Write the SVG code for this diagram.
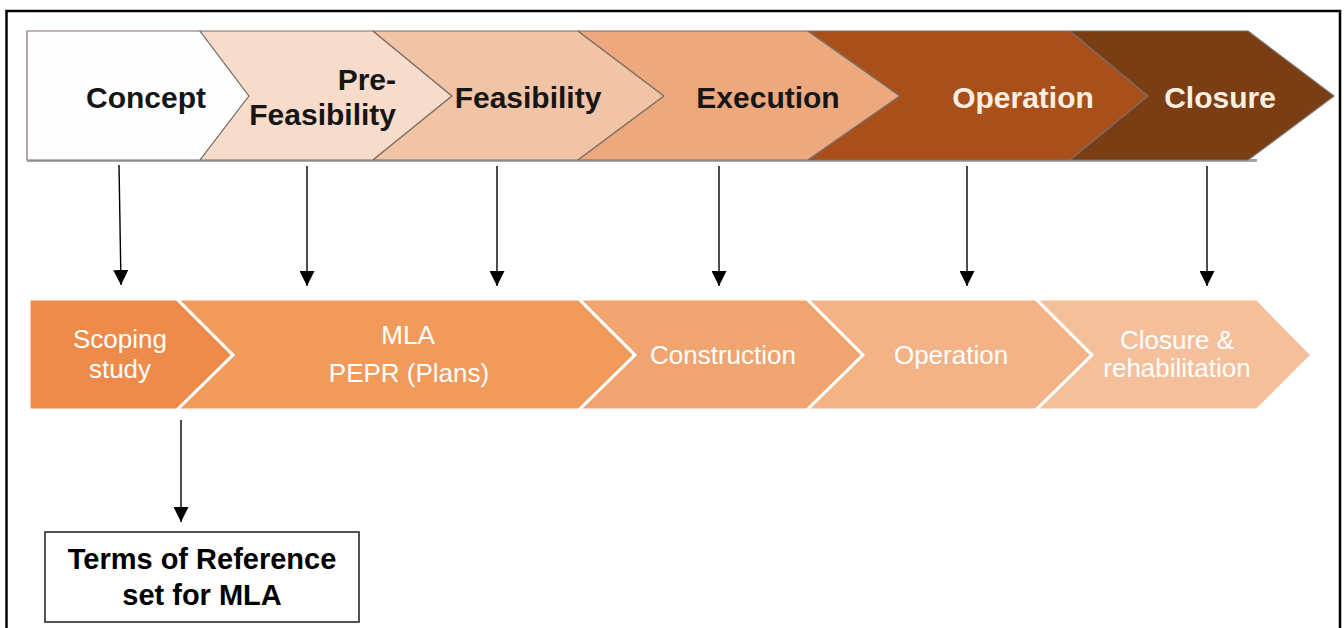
<svg xmlns="http://www.w3.org/2000/svg" width="1344" height="628" viewBox="0 0 1344 628">
  <style>
    .top { stroke: #7d6e66; stroke-width: 1.2; stroke-linejoin: round; }
    .bot { stroke: #ffffff; stroke-width: 3; stroke-linejoin: miter; }
    .tl { font-family: "Liberation Sans", Arial, sans-serif; font-weight: bold; font-size: 30px; text-anchor: middle; }
    .dark { fill: #161616; }
    .light { fill: #fcefe2; }
    .bl { font-family: "Liberation Sans", Arial, sans-serif; font-size: 26px; fill: #ffffff; text-anchor: middle; }
    .conn { stroke: #000000; stroke-width: 1.4; fill: none; marker-end: url(#arrow); }
    .box { fill: #ffffff; stroke: #1a1a1a; stroke-width: 1.5; }
    .bt { font-family: "Liberation Sans", Arial, sans-serif; font-weight: bold; font-size: 29px; fill: #000000; text-anchor: middle; }
  </style>
  <defs>
    <marker id="arrow" viewBox="0 0 15 15" refX="15" refY="7.5" markerWidth="15" markerHeight="15" markerUnits="userSpaceOnUse" orient="auto">
      <path d="M0,0 L15,7.5 L0,15 Z" fill="#000000"/>
    </marker>
  </defs>
  <rect x="0" y="0" width="1344" height="628" fill="#ffffff"/>
  <rect x="6.5" y="11" width="1333.5" height="640" fill="none" stroke="#000000" stroke-width="2.5"/>

  <!-- top band shadow -->
  <rect x="27" y="159" width="1230" height="3" fill="#a8a8a8"/>

  <g id="concept">
    <polygon class="top" points="27,31 200,31 249,96 200,160 27,160" fill="#fefefe"/>
    <text class="tl dark" x="146" y="108">Concept</text>
  </g>
  <g id="pre-feasibility">
    <polygon class="top" points="200,31 373,31 452,96 373,160 200,160 249,96" fill="#f7dccb"/>
    <text class="tl dark" x="396" y="90" style="text-anchor:end">Pre-</text>
    <text class="tl dark" x="396" y="125" style="text-anchor:end">Feasibility</text>
  </g>
  <g id="feasibility">
    <polygon class="top" points="373,31 578,31 664,96 578,160 373,160 452,96" fill="#f1c4a6"/>
    <text class="tl dark" x="528" y="108">Feasibility</text>
  </g>
  <g id="execution">
    <polygon class="top" points="578,31 808,31 900,96 808,160 578,160 664,96" fill="#eda87d"/>
    <text class="tl dark" x="768" y="108">Execution</text>
  </g>
  <g id="operation">
    <polygon class="top" points="808,31 1070,31 1148,96 1070,160 808,160 900,96" fill="#a9501a"/>
    <text class="tl light" x="1023" y="108">Operation</text>
  </g>
  <g id="closure">
    <polygon class="top" points="1070,31 1248,31 1334,96 1248,160 1070,160 1148,96" fill="#7b3d14"/>
    <text class="tl light" x="1220" y="108">Closure</text>
  </g>

  <g id="scoping-study">
    <polygon class="bot" points="29,299 177,299 233,355 177,410 29,410" fill="#ee8b4a"/>
    <text class="bl" x="120" y="348">Scoping</text>
    <text class="bl" x="120" y="378">study</text>
  </g>
  <g id="mla-pepr">
    <polygon class="bot" points="177,299 579,299 635,355 579,410 177,410 233,355" fill="#f09a5c"/>
    <text class="bl" x="408" y="344">MLA</text>
    <text class="bl" x="409" y="382">PEPR (Plans)</text>
  </g>
  <g id="construction">
    <polygon class="bot" points="579,299 807,299 863,355 807,410 579,410 635,355" fill="#f0a570"/>
    <text class="bl" x="723" y="364">Construction</text>
  </g>
  <g id="operation-phase">
    <polygon class="bot" points="807,299 1036,299 1092,355 1036,410 807,410 863,355" fill="#f3b387"/>
    <text class="bl" x="951" y="364">Operation</text>
  </g>
  <g id="closure-rehab">
    <polygon class="bot" points="1036,299 1257,299 1312,355 1257,410 1036,410 1092,355" fill="#f5bf9b"/>
    <text class="bl" x="1177" y="349">Closure &amp;</text>
    <text class="bl" x="1177" y="377">rehabilitation</text>
  </g>

  <g id="terms-of-reference">
    <rect class="box" x="45" y="532" width="314" height="90"/>
    <text class="bt" x="202" y="569">Terms of Reference</text>
    <text class="bt" x="202" y="605">set for MLA</text>
  </g>

  <g id="connectors">
    <line class="conn" x1="119" y1="165" x2="121" y2="285"/>
    <line class="conn" x1="307" y1="166" x2="307" y2="286"/>
    <line class="conn" x1="497" y1="166" x2="497" y2="286"/>
    <line class="conn" x1="719" y1="166" x2="719" y2="286"/>
    <line class="conn" x1="967" y1="166" x2="967" y2="286"/>
    <line class="conn" x1="1207" y1="166" x2="1207" y2="286"/>
    <line class="conn" x1="181" y1="420" x2="181" y2="522"/>
  </g>
</svg>
